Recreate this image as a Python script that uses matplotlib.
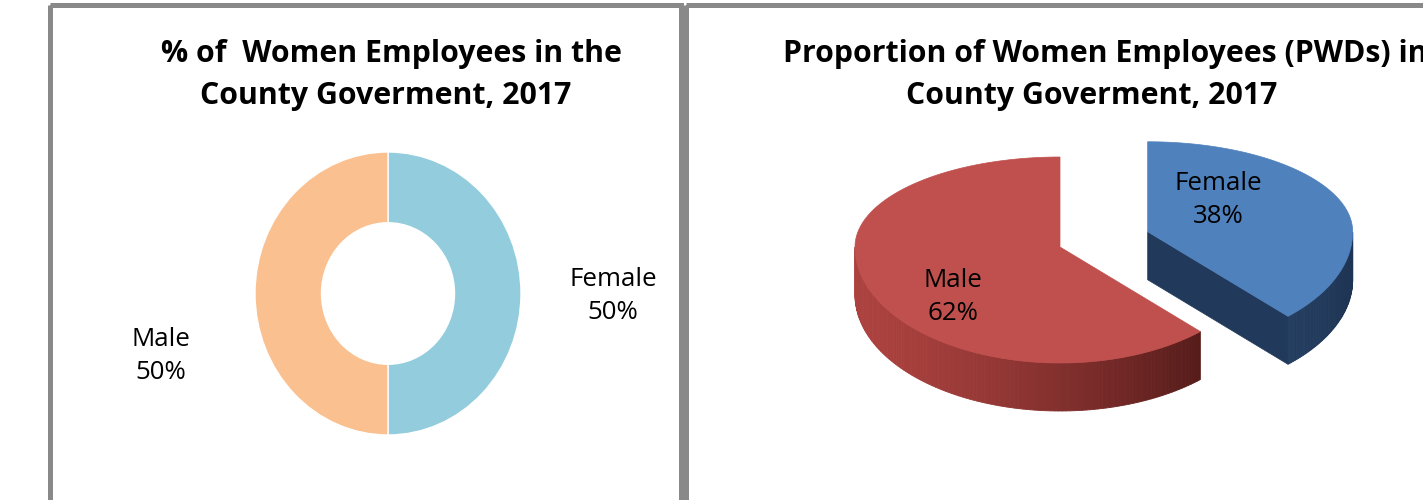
import numpy as np
import matplotlib
matplotlib.use("Agg")
import matplotlib.pyplot as plt
from matplotlib.patches import Polygon, Rectangle

# ---------------- data ----------------
donut_title_1 = "% of  Women Employees in the"
donut_title_2 = "County Goverment, 2017"
donut_labels = ["Female", "Male"]
donut_values = [50, 50]
donut_colors = ["#93CDDD", "#FAC090"]

pie_title_1 = "Proportion of Women Employees (PWDs) in the"
pie_title_2 = "County Goverment, 2017"
pie_labels = ["Female", "Male"]
pie_values = [38, 62]
pie_top_colors = ["#4F81BD", "#C0504D"]

plt.rcParams['font.family'] = ['Open Sans', 'DejaVu Sans']

W, H = 1423, 500
fig = plt.figure(figsize=(W / 100, H / 100), dpi=100)
fig.patch.set_facecolor("white")

# background axes in pixel coordinates (y downwards)
bg = fig.add_axes([0, 0, 1, 1])
bg.set_xlim(0, W)
bg.set_ylim(H, 0)
bg.axis("off")

border_col = "#898989"
bg.add_patch(Rectangle((49.5, 4.5), 631, 540, fill=False, ec=border_col, lw=3.6, zorder=5))
bg.add_patch(Rectangle((685.5, 4.5), 800, 540, fill=False, ec=border_col, lw=3.6, zorder=5))

# ---------------- titles ----------------
tfs = 21.8
bg.text(391, 62, donut_title_1, ha="center", va="baseline", fontsize=tfs, fontweight="bold", color="black")
bg.text(386, 104, donut_title_2, ha="center", va="baseline", fontsize=tfs, fontweight="bold", color="black")
bg.text(783, 62, pie_title_1, ha="left", va="baseline", fontsize=tfs, fontweight="bold", color="black")
bg.text(1092, 104, pie_title_2, ha="center", va="baseline", fontsize=tfs, fontweight="bold", color="black")

# ---------------- donut ----------------
cx, cy, rx, ry = 388, 293.5, 133, 141.5
dax = fig.add_axes([(cx - rx) / W, (H - (cy + ry)) / H, 2 * rx / W, 2 * ry / H])
dax.pie(donut_values, colors=donut_colors, startangle=90, counterclock=False,
        wedgeprops=dict(width=0.5, edgecolor="white", linewidth=1))
dax.set_aspect("auto")
dax.set_xlim(-1, 1)
dax.set_ylim(-1, 1)
dax.axis("off")

lfs = 18.6
lsp = 1.38
label_pos = {"Female": (613, 296), "Male": (161, 356)}
for lab, val in zip(donut_labels, donut_values):
    x, y = label_pos[lab]
    bg.text(x, y, f"{lab}\n{val}%", ha="center", va="center", fontsize=lfs,
            linespacing=lsp, color="black", zorder=6)

# ---------------- 3D exploded pie ----------------
pcx, pcy = 1060, 247
A, B_BACK, B_FRONT, DEPTH = 205, 90, 116, 48
EXPLODE = 0.46


def pt(theta_deg, ox, oy):
    t = np.radians(theta_deg)
    s = np.sin(t)
    b = B_BACK if s > 0 else B_FRONT
    return (ox + A * np.cos(t), oy - b * s)


# angles: start at 12 o'clock, go clockwise
fracs = np.array(pie_values, dtype=float) / sum(pie_values)
slices = []
start = 90.0
for lab, f, col in zip(pie_labels, fracs, pie_top_colors):
    end = start - 360 * f
    slices.append((lab, end, start, col))  # theta from end (low) to start (high)
    start = end


def lerp(c1, c2, t):
    return tuple((np.array(c1) + (np.array(c2) - np.array(c1)) * t) / 255.0)


def rgb(c):
    return tuple(np.array(c) / 255.0)


def draw_slice(lab, t0, t1, col, explode, wall_cols, radial_col):
    mid = np.radians((t0 + t1) / 2)
    ox = pcx + A * explode * np.cos(mid)
    oy = pcy - B_BACK * explode * np.sin(mid)
    thetas = np.linspace(t0, t1, 400)
    front = np.sin(np.radians(thetas)) <= 0
    rc = rgb(radial_col)
    # radial face at t0 if its normal faces viewer
    n = (np.sin(np.radians(t0)), -np.cos(np.radians(t0)))
    if n[1] < 0:
        p = pt(t0, ox, oy)
        poly = [(ox, oy), p, (p[0], p[1] + DEPTH), (ox, oy + DEPTH)]
        bg.add_patch(Polygon(poly, closed=True, fc=rc, ec=rc, lw=0.5, zorder=2))
    n2 = (-np.sin(np.radians(t1)), np.cos(np.radians(t1)))
    if n2[1] < -1e-6:
        p = pt(t1, ox, oy)
        poly = [(ox, oy), p, (p[0], p[1] + DEPTH), (ox, oy + DEPTH)]
        bg.add_patch(Polygon(poly, closed=True, fc=rc, ec=rc, lw=0.5, zorder=2))
    fth = thetas[front]
    if len(fth) > 1:
        xs = [pt(t, ox, oy)[0] for t in fth]
        xmin, xmax = min(xs), max(xs)
        step = 2
        for i in range(0, len(fth) - 1, step):
            ta, tb = fth[i], fth[min(i + step, len(fth) - 1)]
            pa, pb = pt(ta, ox, oy), pt(tb, ox, oy)
            xm = (pa[0] + pb[0]) / 2
            tt = (xm - xmin) / max(xmax - xmin, 1)
            c = lerp(wall_cols[0], wall_cols[1], tt ** 1.4)
            poly = [pa, pb, (pb[0], pb[1] + DEPTH), (pa[0], pa[1] + DEPTH)]
            bg.add_patch(Polygon(poly, closed=True, fc=c, ec=c, lw=0.6, zorder=2))
    # top surface
    arc = [pt(t, ox, oy) for t in np.linspace(t0, t1, 300)]
    bg.add_patch(Polygon([(ox, oy)] + arc, closed=True, fc=col, ec=col, lw=0.5, zorder=3))


for lab, t0, t1, col in slices:
    if lab == "Female":
        draw_slice(lab, t0, t1, col, EXPLODE, [(36, 62, 96), (30, 52, 84)], (33, 57, 90))
for lab, t0, t1, col in slices:
    if lab == "Male":
        draw_slice(lab, t0, t1, col, 0.0, [(172, 66, 63), (86, 28, 26)], (120, 40, 38))

pie_label_pos = {"Female": (1218, 200), "Male": (953, 297)}
for lab, val in zip(pie_labels, pie_values):
    x, y = pie_label_pos[lab]
    bg.text(x, y, f"{lab}\n{val}%", ha="center", va="center", fontsize=lfs,
            linespacing=lsp, color="black", zorder=6)

fig.savefig("out.png", dpi=100, facecolor="white")
